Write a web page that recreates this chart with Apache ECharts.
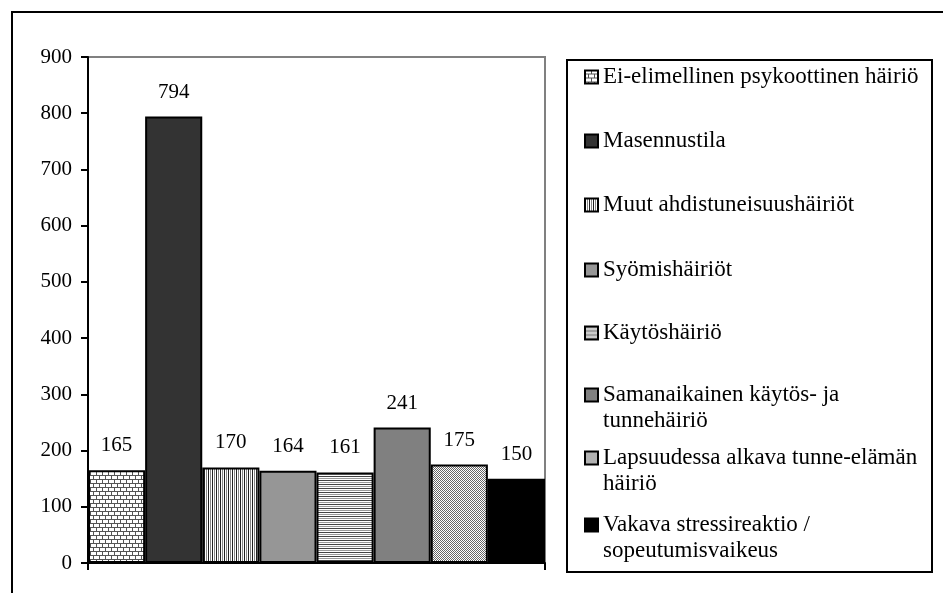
<!DOCTYPE html>
<html>
<head>
<meta charset="utf-8">
<script src="https://cdn.jsdelivr.net/npm/echarts@6/dist/echarts.min.js"></script>
<style>
html,body{margin:0;padding:0;background:#fff;overflow:hidden;}
#chart{width:943px;height:593px;}
</style>
</head>
<body>
<div id="chart"></div>
<script>
// ---- data ----
const categories = [''];
const seriesNames = [
  'Ei-elimellinen psykoottinen häiriö',
  'Masennustila',
  'Muut ahdistuneisuushäiriöt',
  'Syömishäiriöt',
  'Käytöshäiriö',
  'Samanaikainen käytös- ja tunnehäiriö',
  'Lapsuudessa alkava tunne-elämän häiriö',
  'Vakava stressireaktio / sopeutumisvaikeus'
];
const legendLines = [
  ['Ei-elimellinen psykoottinen häiriö'],
  ['Masennustila'],
  ['Muut ahdistuneisuushäiriöt'],
  ['Syömishäiriöt'],
  ['Käytöshäiriö'],
  ['Samanaikainen käytös- ja', 'tunnehäiriö'],
  ['Lapsuudessa alkava tunne-elämän', 'häiriö'],
  ['Vakava stressireaktio /', 'sopeutumisvaikeus']
];
const values = [165, 794, 170, 164, 161, 241, 175, 150];
const yMin = 0, yMax = 900, yInterval = 100;

// ---- styles ----
const FONT = "'Liberation Serif', 'Times New Roman', serif";

function makePattern(w, h, draw) {
  const c = document.createElement('canvas');
  c.width = w; c.height = h;
  const g = c.getContext('2d');
  g.fillStyle = '#ffffff';
  g.fillRect(0, 0, w, h);
  draw(g);
  return { image: c, repeat: 'repeat' };
}
const brick = makePattern(6, 8, g => {
  g.fillStyle = '#555';
  g.fillRect(0, 3, 6, 1); g.fillRect(0, 7, 6, 1);
  g.fillRect(0, 0, 1, 3); g.fillRect(3, 4, 1, 3);
});
const vlines = makePattern(4, 1, g => {
  g.fillStyle = '#222'; g.fillRect(0, 0, 1, 1);
  g.fillStyle = '#888'; g.fillRect(2, 0, 1, 1);
});
const hlines = makePattern(1, 4, g => {
  g.fillStyle = '#444'; g.fillRect(0, 0, 1, 1);
  g.fillStyle = '#999'; g.fillRect(0, 2, 1, 1);
});
const dither = makePattern(2, 2, g => {
  g.fillStyle = '#666'; g.fillRect(0, 0, 1, 1); g.fillRect(1, 1, 1, 1);
});
const fills = [brick, '#333333', vlines, '#969696', hlines, '#808080', dither, '#000000'];

// legend icon centre positions (px)
const legendCentres = [77, 141, 205, 270, 333, 395, 458, 525];
const LINE_H = 26;

const series = seriesNames.map((name, i) => ({
  name: name,
  type: 'bar',
  barGap: '0%',
  barCategoryGap: '0%',
  data: [values[i]],
  itemStyle: { color: fills[i], borderColor: '#000', borderWidth: 2 },
  label: {
    show: true, position: 'top', distance: 14,
    color: '#000', fontFamily: FONT, fontSize: 21
  }
}));

const legends = seriesNames.map((name, i) => {
  const lines = legendLines[i];
  const n = lines.length;
  const padded = n > 1 ? new Array(n - 1).fill(' ').concat(lines) : lines;
  const halfH = (padded.length * LINE_H) / 2;
  return {
    data: [name],
    orient: 'vertical',
    left: 584,
    top: legendCentres[i] - halfH,
    padding: 0,
    icon: 'rect',
    itemWidth: 13,
    itemHeight: 13,
    selectedMode: false,
    itemStyle: { borderColor: '#000', borderWidth: 2 },
    formatter: () => padded.join('\n'),
    textStyle: {
      color: '#000', fontFamily: FONT, fontSize: 23, lineHeight: LINE_H
    }
  };
});

const chart = echarts.init(document.getElementById('chart'), null, { renderer: 'canvas' });
chart.setOption({
  animation: false,
  backgroundColor: '#fff',
  grid: {
    left: 88, top: 57, right: 398, bottom: 30,
    show: true, borderColor: '#808080', borderWidth: 2, backgroundColor: 'transparent'
  },
  legend: legends,
  xAxis: {
    type: 'category',
    data: categories,
    axisLine: { lineStyle: { color: '#000', width: 2 } },
    axisTick: { show: true, length: 7, lineStyle: { color: '#000', width: 2 } },
    axisLabel: { show: false },
    splitLine: { show: false }
  },
  yAxis: {
    type: 'value',
    min: yMin, max: yMax, interval: yInterval,
    axisLine: { show: true, lineStyle: { color: '#000', width: 2 } },
    axisTick: { show: true, length: 7, lineStyle: { color: '#000', width: 2 } },
    axisLabel: { color: '#000', fontFamily: FONT, fontSize: 21, margin: 16 },
    splitLine: { show: false }
  },
  graphic: [
    { type: 'rect', silent: true, z: -1,
      shape: { x: 11, y: 11, width: 932, height: 2 },
      style: { fill: '#000', stroke: null, lineWidth: 0 } },
    { type: 'rect', silent: true, z: -1,
      shape: { x: 11, y: 11, width: 2, height: 582 },
      style: { fill: '#000', stroke: null, lineWidth: 0 } },
    { type: 'rect', silent: true, z: -1,
      shape: { x: 567, y: 60, width: 365, height: 512 },
      style: { fill: 'none', stroke: '#000', lineWidth: 2 } }
  ],
  series: series
});
</script>
</body>
</html>
